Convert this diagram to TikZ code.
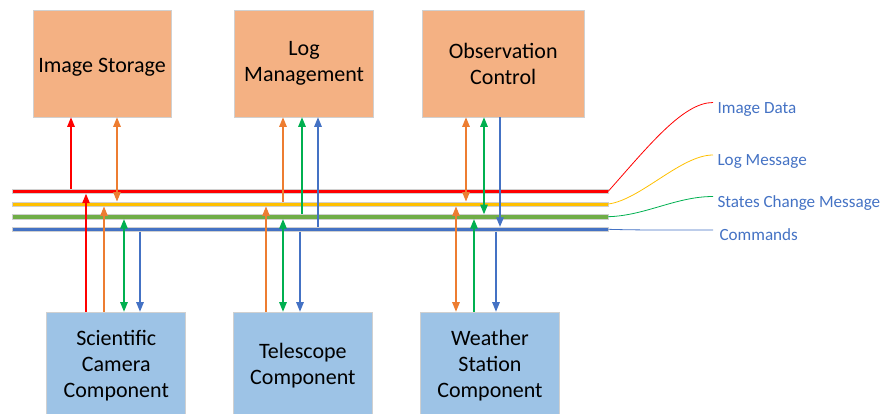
\documentclass[tikz,border=0pt]{standalone}
\usepackage{fontspec}
\setmainfont{Carlito}
\usetikzlibrary{arrows.meta,positioning}
\definecolor{boxorange}{HTML}{F4B183}
\definecolor{boxblue}{HTML}{9DC3E6}
\definecolor{sigred}{HTML}{FF0000}
\definecolor{sigorange}{HTML}{ED7D31}
\definecolor{siggreen}{HTML}{00B050}
\definecolor{sigblue}{HTML}{4472C4}
\definecolor{busyellow}{HTML}{FFC000}
\definecolor{busgreen}{HTML}{70AD47}
\definecolor{edgegray}{HTML}{D0D0D0}

\begin{document}
\begin{tikzpicture}[x=1pt,y=-1pt,>={Triangle[length=9.5pt,width=7.5pt]},line width=1.1pt]
\tikzstyle{service}=[draw=edgegray,line width=0.6pt,fill=boxorange,minimum height=107pt,align=center,font=\fontsize{22}{26}\selectfont,inner sep=2pt,execute at begin node={\rule{0pt}{21pt}}]
\tikzstyle{component}=[service,fill=boxblue,minimum width=139pt]
\tikzstyle{bus}=[draw=edgegray,line width=0.5pt,minimum width=596pt,minimum height=4.4pt,inner sep=0pt]
\tikzstyle{legend}=[anchor=west,text=sigblue,font=\fontsize{17.1}{20}\selectfont,inner sep=0pt,text height=11pt,text depth=3.5pt]

\path[use as bounding box,clip] (0,0) rectangle (884,414);

\node[service,minimum width=138pt] (is) at (102,63.5) {Image Storage};
\node[service,minimum width=139pt] (lm) [right=63pt of is] {Log\\Management};
\node[service,minimum width=162pt] (oc) [right=48pt of lm] {Observation\\Control};

\node[component] (sc) at (116.25,365.5) {Scientific\\Camera\\Component};
\node[component] (tc) [right=47pt of sc] {Telescope\\Component};
\node[component] (ws) [right=47.5pt of tc] {Weather\\Station\\Component};

\node[bus,fill=sigred]    (rb) at (310,191.3) {};
\node[bus,fill=busyellow] (yb) at (310,204)   {};
\node[bus,fill=busgreen]  (gb) at (310,216.7) {};
\node[bus,fill=sigblue]   (bb) at (310,229.3) {};

\node[legend] (l1) at (717,109.5) {Image Data};
\node[legend] (l2) at (717,162)   {Log Message};
\node[legend] (l3) at (717,203.5) {States Change Message};
\node[legend] (l4) at (719,237)   {Commands};

\draw[sigred,line width=0.8pt] (rb.east) .. controls +(40,-45) and +(-30,0) .. ([xshift=-4pt,yshift=7pt]l1.west);
\draw[busyellow,line width=0.8pt] (yb.east) .. controls +(32,-4) and +(-32,0) .. ([xshift=-4pt,yshift=7pt]l2.west);
\draw[siggreen,line width=0.8pt] (gb.east) .. controls +(37,-1) and +(-37,0) .. ([xshift=-4pt,yshift=7pt]l3.west);
\draw[sigblue,line width=0.8pt] (bb.east) .. controls +(32,1) and +(-32,0) .. ([xshift=-6pt,yshift=7pt]l4.west);

\draw[->,sigred]     (71,0 |- rb.north)  -- (71,0 |- is.south);
\draw[<->,sigorange] (117,0 |- yb.north) -- (117,0 |- is.south);

\draw[->,sigorange]  (283,0 |- yb.north) -- (283,0 |- lm.south);
\draw[->,siggreen]   (302,0 |- gb.north) -- (302,0 |- lm.south);
\draw[->,sigblue]    (318,0 |- bb.north) -- (318,0 |- lm.south);

\draw[<->,sigorange] (466,0 |- yb.north) -- (466,0 |- oc.south);
\draw[<->,siggreen]  (484,0 |- gb.north) -- (484,0 |- oc.south);
\draw[->,sigblue]    (500,0 |- oc.south) -- (500,0 |- bb.north);

\draw[->,sigred]     (86,0 |- sc.north)  -- (86,0 |- rb.south);
\draw[->,sigorange]  (104,0 |- sc.north) -- (104,0 |- yb.south);
\draw[<->,siggreen]  (124,0 |- gb.south) -- (124,0 |- sc.north);
\draw[->,sigblue]    (140,0 |- bb.south) -- (140,0 |- sc.north);

\draw[->,sigorange]  (266,0 |- tc.north) -- (266,0 |- yb.south);
\draw[<->,siggreen]  (283,0 |- gb.south) -- (283,0 |- tc.north);
\draw[->,sigblue]    (300,0 |- bb.south) -- (300,0 |- tc.north);

\draw[<->,sigorange] (456,0 |- yb.south) -- (456,0 |- ws.north);
\draw[->,siggreen]   (474,0 |- ws.north) -- (474,0 |- gb.south);
\draw[->,sigblue]    (496,0 |- bb.south) -- (496,0 |- ws.north);
\end{tikzpicture}
\end{document}
